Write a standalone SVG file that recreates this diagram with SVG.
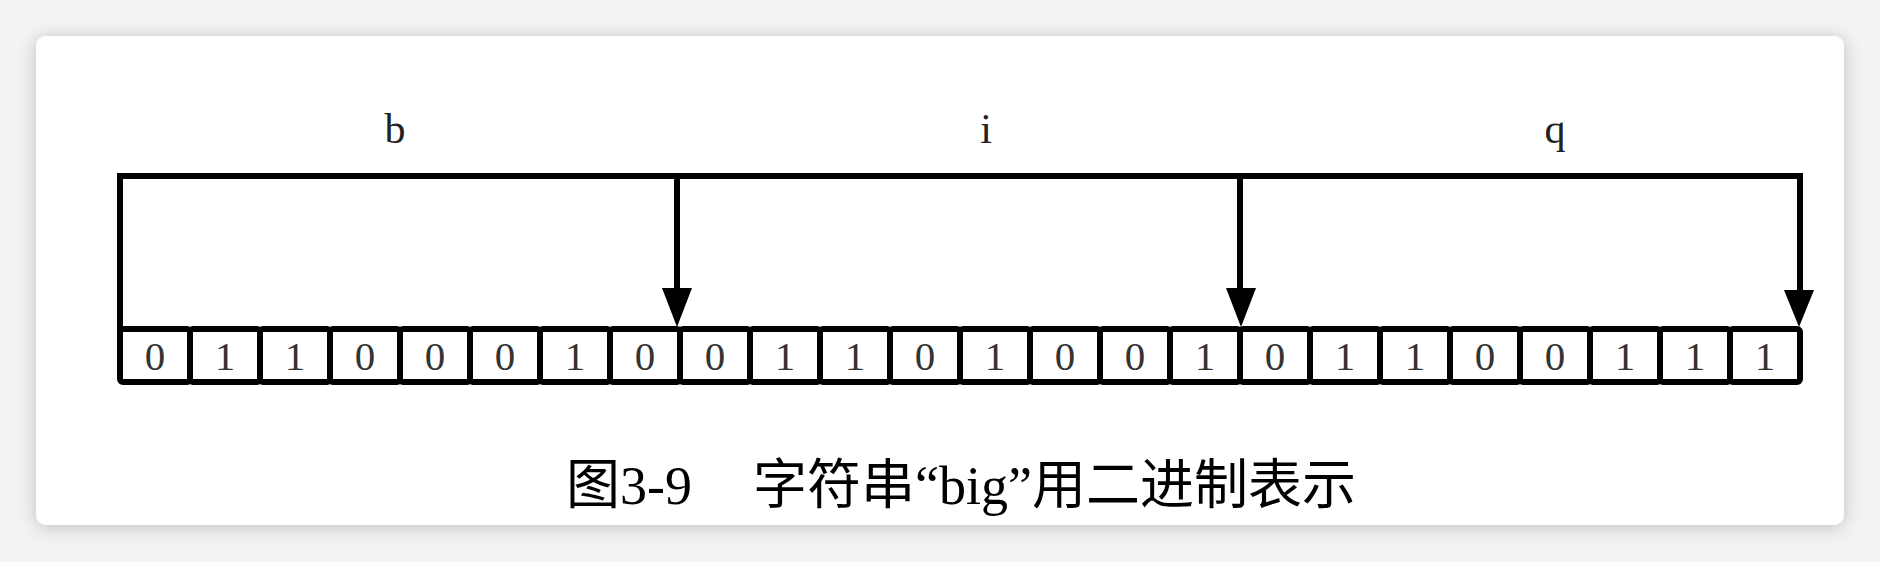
<svg xmlns="http://www.w3.org/2000/svg" width="1880" height="562" viewBox="0 0 1880 562">
  <defs>
    <filter id="shadow" x="-5%" y="-10%" width="110%" height="120%">
      <feDropShadow dx="0" dy="2" stdDeviation="9" flood-color="#000" flood-opacity="0.22"/>
    </filter>
    <style>
      .line { fill: none; stroke: #000; stroke-width: 6; stroke-linejoin: miter; }
      .cell { fill: #fff; stroke: #000; stroke-width: 6; }
      .digit { font-family: "Liberation Serif", "DejaVu Serif", serif; font-size: 41px; fill: #333; text-anchor: middle; }
      .label { font-family: "Liberation Serif", "DejaVu Serif", serif; font-size: 42px; fill: #222; text-anchor: middle; }
      .caption { font-family: "Liberation Serif", "Noto Sans CJK SC", serif; font-size: 54px; fill: #000; }
      .head { fill: #000; }
    </style>
  </defs>
  <rect x="0" y="0" width="1880" height="562" fill="#f3f3f3"/>
  <rect x="36" y="36" width="1808" height="489" rx="10" ry="10" fill="#fff" filter="url(#shadow)"/>

  <g id="label-b"><text class="label" x="395" y="143">b</text></g>
  <g id="label-i"><text class="label" x="986" y="143">i</text></g>
  <g id="label-q"><text class="label" x="1555" y="143">q</text></g>

  <g id="cells">
    <g id="byte-b">
      <rect class="cell" x="120" y="329" width="70" height="53" rx="3"/><text class="digit" x="155" y="370">0</text>
      <rect class="cell" x="190" y="329" width="70" height="53" rx="3"/><text class="digit" x="225" y="370">1</text>
      <rect class="cell" x="260" y="329" width="70" height="53" rx="3"/><text class="digit" x="295" y="370">1</text>
      <rect class="cell" x="330" y="329" width="70" height="53" rx="3"/><text class="digit" x="365" y="370">0</text>
      <rect class="cell" x="400" y="329" width="70" height="53" rx="3"/><text class="digit" x="435" y="370">0</text>
      <rect class="cell" x="470" y="329" width="70" height="53" rx="3"/><text class="digit" x="505" y="370">0</text>
      <rect class="cell" x="540" y="329" width="70" height="53" rx="3"/><text class="digit" x="575" y="370">1</text>
      <rect class="cell" x="610" y="329" width="70" height="53" rx="3"/><text class="digit" x="645" y="370">0</text>
    </g>
    <g id="byte-i">
      <rect class="cell" x="680" y="329" width="70" height="53" rx="3"/><text class="digit" x="715" y="370">0</text>
      <rect class="cell" x="750" y="329" width="70" height="53" rx="3"/><text class="digit" x="785" y="370">1</text>
      <rect class="cell" x="820" y="329" width="70" height="53" rx="3"/><text class="digit" x="855" y="370">1</text>
      <rect class="cell" x="890" y="329" width="70" height="53" rx="3"/><text class="digit" x="925" y="370">0</text>
      <rect class="cell" x="960" y="329" width="70" height="53" rx="3"/><text class="digit" x="995" y="370">1</text>
      <rect class="cell" x="1030" y="329" width="70" height="53" rx="3"/><text class="digit" x="1065" y="370">0</text>
      <rect class="cell" x="1100" y="329" width="70" height="53" rx="3"/><text class="digit" x="1135" y="370">0</text>
      <rect class="cell" x="1170" y="329" width="70" height="53" rx="3"/><text class="digit" x="1205" y="370">1</text>
    </g>
    <g id="byte-g">
      <rect class="cell" x="1240" y="329" width="70" height="53" rx="3"/><text class="digit" x="1275" y="370">0</text>
      <rect class="cell" x="1310" y="329" width="70" height="53" rx="3"/><text class="digit" x="1345" y="370">1</text>
      <rect class="cell" x="1380" y="329" width="70" height="53" rx="3"/><text class="digit" x="1415" y="370">1</text>
      <rect class="cell" x="1450" y="329" width="70" height="53" rx="3"/><text class="digit" x="1485" y="370">0</text>
      <rect class="cell" x="1520" y="329" width="70" height="53" rx="3"/><text class="digit" x="1555" y="370">0</text>
      <rect class="cell" x="1590" y="329" width="70" height="53" rx="3"/><text class="digit" x="1625" y="370">1</text>
      <rect class="cell" x="1660" y="329" width="70" height="53" rx="3"/><text class="digit" x="1695" y="370">1</text>
      <rect class="cell" x="1730" y="329" width="70" height="53" rx="3"/><text class="digit" x="1765" y="370">1</text>
    </g>
  </g>

  <g id="connectors">
    <path class="line" d="M120,331 L120,176 L1800,176 L1800,292"/>
    <path class="line" d="M677,176 L677,292"/>
    <path class="line" d="M1240,176 L1240,292"/>
    <polygon class="head" points="662,288 692,288 677,327"/>
    <polygon class="head" points="1226,288 1256,288 1241,327"/>
    <polygon class="head" points="1784,290 1814,290 1799,327"/>
  </g>

  <g id="caption">
    <text class="caption" y="504"><tspan x="566">图3-9</tspan><tspan x="753">字符串“big”用二进制表示</tspan></text>
  </g>
</svg>
